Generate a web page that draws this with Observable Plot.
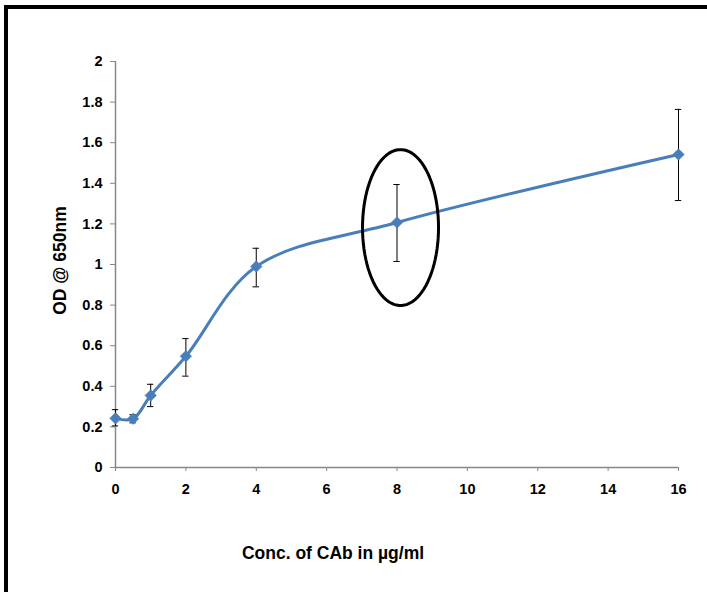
<!DOCTYPE html>
<html><head><meta charset="utf-8">
<script src="https://cdn.jsdelivr.net/npm/d3@7"></script>
<script src="https://cdn.jsdelivr.net/npm/@observablehq/plot@0.6"></script>
<style>
html,body{margin:0;padding:0;background:#fff;overflow:hidden;}
#wrap{position:relative;width:707px;height:592px;}
#frame{position:absolute;left:4px;top:5px;width:720px;height:620px;border-left:4px solid #000;border-top:4px solid #000;box-sizing:border-box;pointer-events:none;}
svg{font-family:"Liberation Sans",Arial,sans-serif;}
</style></head><body>
<div id="wrap"><div id="chart"></div><div id="frame"></div></div>
<script>
const conc = [0, 0.5, 1, 2, 4, 8, 16];
const od = [0.242, 0.24, 0.355, 0.548, 0.99, 1.207, 1.542];
const errLow = [0.205, 0.22, 0.30, 0.45, 0.89, 1.015, 1.315];
const errHigh = [0.285, 0.26, 0.41, 0.635, 1.08, 1.394, 1.764];
const xTicks = [0, 2, 4, 6, 8, 10, 12, 14, 16];
const yTicks = [0, 0.2, 0.4, 0.6, 0.8, 1, 1.2, 1.4, 1.6, 1.8, 2];
const xLabel = "Conc. of CAb in µg/ml";
const yLabel = "OD @ 650nm";
const ellipseCenter = [8.1, 1.182];
const ellipseRadii = [1.08, 0.384];

const data = conc.map((x, i) => ({x, y: od[i], lo: errLow[i], hi: errHigh[i]}));
const capHalf = 0.09;
const ellipse = d3.range(0, 361, 4).map(a => ({
  x: ellipseCenter[0] + ellipseRadii[0] * Math.cos(a * Math.PI / 180),
  y: ellipseCenter[1] + ellipseRadii[1] * Math.sin(a * Math.PI / 180)
}));
const axisGray = "#878787";
const blue = "#4A7EBB";

const chart = Plot.plot({
  width: 707, height: 592,
  marginLeft: 115, marginRight: 29, marginTop: 61, marginBottom: 125,
  style: {fontFamily: '"Liberation Sans", Arial, sans-serif', fontSize: "14.5px", fontWeight: "bold", color: "#000", background: "transparent"},
  x: {domain: [0, 16]},
  y: {domain: [0, 2]},
  marks: [
    Plot.axisX({ticks: xTicks, tickFormat: d => String(d), tickSize: 4, tickPadding: 12, stroke: axisGray,
      label: null, fontSize: 14.5, fontWeight: "bold", fill: "#000"}),
    Plot.axisY({ticks: yTicks, tickFormat: d => String(d), tickSize: 5, tickPadding: 8, stroke: axisGray,
      label: null, fontSize: 14.5, fontWeight: "bold", fill: "#000"}),
    Plot.text([xLabel], {frameAnchor: "bottom", dx: -64, dy: 86, lineAnchor: "middle", fontSize: 17.5, fontWeight: "bold", fill: "#000"}),
    Plot.text([yLabel], {frameAnchor: "left", textAnchor: "middle", lineAnchor: "middle", rotate: -90, dx: -55, dy: -4, fontSize: 17.5, fontWeight: "bold", fill: "#000"}),
    Plot.ruleX([0], {y1: 0, y2: 2, stroke: axisGray, strokeWidth: 1.5}),
    Plot.ruleY([0], {x1: 0, x2: 16, stroke: axisGray, strokeWidth: 1.5}),
    Plot.ruleX(data, {x: "x", y1: "lo", y2: "hi", stroke: "#000", strokeWidth: 1}),
    Plot.ruleY(data, {y: "hi", x1: d => d.x - capHalf, x2: d => d.x + capHalf, stroke: "#000", strokeWidth: 1}),
    Plot.ruleY(data, {y: "lo", x1: d => d.x - capHalf, x2: d => d.x + capHalf, stroke: "#000", strokeWidth: 1}),
    Plot.line(data, {x: "x", y: "y", stroke: blue, strokeWidth: 3, curve: "catmull-rom"}),
    Plot.dot(data, {x: "x", y: "y", symbol: "square", rotate: 45, fill: blue, stroke: blue, strokeWidth: 0.5, r: 4.6}),
    Plot.line(ellipse, {x: "x", y: "y", stroke: "#000", strokeWidth: 3, curve: "linear-closed"})
  ]
});
d3.select(chart).selectAll('g[aria-label*="tick label"]').attr("font-size", 14.5).style("font-size", "14.5px").style("font-weight", "bold");
document.getElementById("chart").appendChild(chart);
</script>
</body></html>
